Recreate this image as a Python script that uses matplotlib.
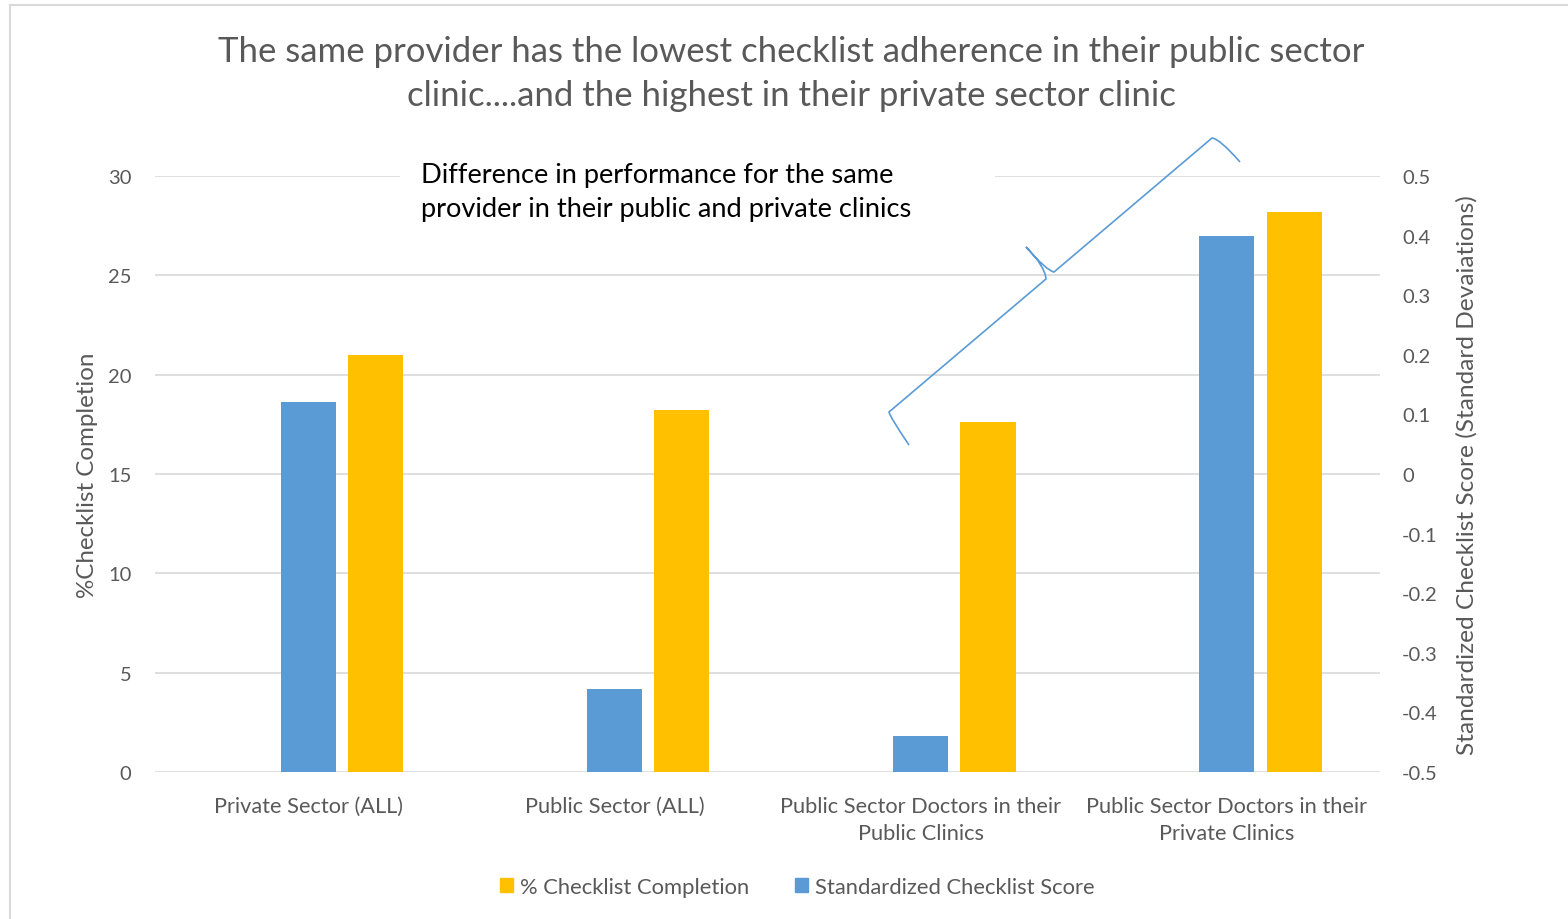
import matplotlib
matplotlib.use("Agg")
import matplotlib.pyplot as plt
import numpy as np
from matplotlib.path import Path
from matplotlib.patches import PathPatch, Rectangle
from matplotlib.patches import Patch

plt.rcParams['font.family'] = ['Lato', 'DejaVu Sans']

categories = ["Private Sector (ALL)", "Public Sector (ALL)",
              "Public Sector Doctors in their\nPublic Clinics",
              "Public Sector Doctors in their\nPrivate Clinics"]
pct_completion = [21.0, 18.2, 17.6, 28.2]
std_score = [0.12, -0.36, -0.44, 0.40]

yellow = "#FFC000"
blue = "#5B9BD5"
grey = "#595959"
W, H = 1568, 920


def fx(px):
    return px / W


def fy(py):
    return 1 - py / H


fig = plt.figure(figsize=(15.68, 9.2), dpi=100)
ax = fig.add_axes([fx(155), fy(773), fx(1380) - fx(155), fy(177) - fy(773)])
ax2 = ax.twinx()

x = np.arange(len(categories))
bw = 0.18
ax.bar(x + 0.22, pct_completion, width=bw, color=yellow, zorder=3)
ax2.bar(x, [v + 0.5 for v in std_score], bottom=-0.5, width=bw, color=blue, zorder=3)

ax.set_xlim(-0.5, 3.5)
ax.set_ylim(0, 30)
ax.set_yticks(range(0, 31, 5))
ax2.set_ylim(-0.5, 0.5)
ax2.set_yticks(np.round(np.arange(-0.5, 0.51, 0.1), 1))
ax2.set_yticklabels(["-0.5", "-0.4", "-0.3", "-0.2", "-0.1", "0",
                     "0.1", "0.2", "0.3", "0.4", "0.5"])

ax.grid(axis='y', color="#D9D9D9", linewidth=1.2, zorder=0)
ax.set_axisbelow(True)
for a in (ax, ax2):
    for s in a.spines.values():
        s.set_visible(False)
    a.tick_params(length=0, colors=grey, labelsize=14.5)
ax.tick_params(axis='y', pad=17)
ax2.tick_params(axis='y', pad=16)
ax.set_xticks(x + 0.0)
ax.set_xticklabels(categories, fontsize=15.7, color=grey, linespacing=1.45)
ax.tick_params(axis='x', pad=17)

ax.set_ylabel("%Checklist Completion", fontsize=17.4, color=grey, labelpad=7)
ax2.set_ylabel("Standardized Checklist Score (Standard Devaiations)",
               fontsize=17.6, color=grey, labelpad=13)

fig.text(fx(791), fy(74),
         "The same provider has the lowest checklist adherence in their public sector\n"
         "clinic....and the highest in their private sector clinic",
         ha='center', va='center', fontsize=25, color=grey, linespacing=1.5)

# white box behind the callout text
fig.add_artist(Rectangle((fx(400), fy(232)), fx(995) - fx(400), fy(150) - fy(232),
                         transform=fig.transFigure, facecolor='white',
                         edgecolor='none', zorder=5))
fig.text(fx(421), fy(192),
         "Difference in performance for the same\nprovider in their public and private clinics",
         ha='left', va='center', fontsize=19.6, color='black', linespacing=1.45,
         zorder=6)

# hand-drawn brace
pts = [(909, 446), (890, 418), (889, 413), (1046, 280), (1045, 267), (1026, 248),
       (1047, 272), (1054, 273), (1212, 139), (1220, 140), (1240, 163)]
codes = [Path.MOVETO, Path.CURVE3, Path.CURVE3, Path.LINETO, Path.CURVE3, Path.CURVE3,
         Path.CURVE3, Path.CURVE3, Path.LINETO, Path.CURVE3, Path.CURVE3]
brace = Path([(fx(p[0]), fy(p[1])) for p in pts], codes)
fig.add_artist(PathPatch(brace, transform=fig.transFigure, fill=False,
                         edgecolor=blue, linewidth=1.2, zorder=7))

# outer chart frame
fig.add_artist(Rectangle((fx(10), fy(940)), 1.0, fy(6) - fy(940),
                         transform=fig.transFigure, fill=False,
                         edgecolor="#D9D9D9", linewidth=1.5, zorder=1))

handles = [Patch(color=yellow, label="% Checklist Completion"),
           Patch(color=blue, label="Standardized Checklist Score")]
fig.legend(handles=handles, loc='center', bbox_to_anchor=(fx(797), fy(888)),
           ncol=2, frameon=False, fontsize=15.8, labelcolor=grey,
           handlelength=0.6, handleheight=0.6, handletextpad=0.3,
           columnspacing=2.1)

fig.savefig("out.png", dpi=100)
